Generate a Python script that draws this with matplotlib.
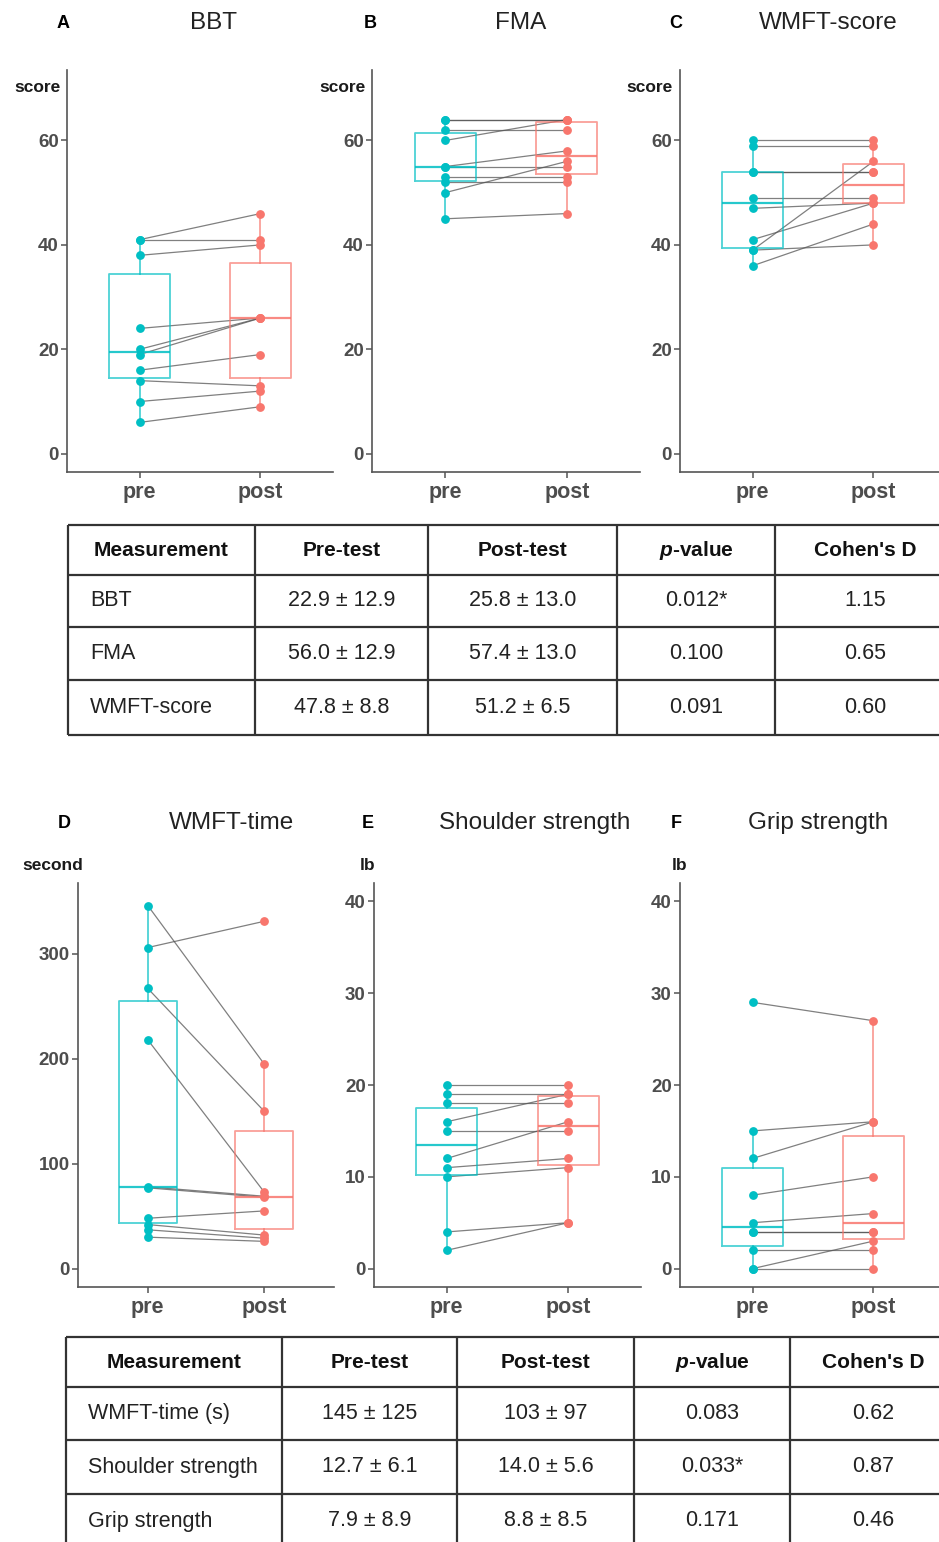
import matplotlib
matplotlib.use("Agg")
import matplotlib.pyplot as plt

plt.rcParams['font.family'] = ['Liberation Sans', 'DejaVu Sans']
plt.rcParams['mathtext.fontset'] = 'custom'
plt.rcParams['mathtext.it'] = 'Liberation Sans:italic:bold'
plt.rcParams['mathtext.rm'] = 'Liberation Sans:bold'

# ---- data (10 participants, paired pre/post) ----
groups = ["pre", "post"]

bbt_pre = [41, 41, 38, 24, 20, 19, 16, 14, 10, 6]
bbt_post = [46, 41, 40, 26, 26, 26, 19, 13, 12, 9]
fma_pre = [64, 64, 62, 60, 55, 55, 53, 52, 50, 45]
fma_post = [64, 64, 62, 64, 58, 55, 53, 52, 56, 46]
wmft_score_pre = [60, 59, 54, 54, 49, 47, 41, 39, 39, 36]
wmft_score_post = [60, 59, 54, 54, 49, 48, 48, 56, 40, 44]
wmft_time_pre = [346, 306, 267, 218, 78, 77, 48, 42, 37, 30]
wmft_time_post = [195, 331, 150, 73, 69, 68, 55, 32, 29, 26]
shoulder_pre = [20, 19, 18, 16, 15, 12, 11, 10, 4, 2]
shoulder_post = [20, 19, 18, 19, 15, 16, 12, 11, 5, 5]
grip_pre = [29, 15, 12, 8, 5, 4, 4, 2, 0, 0]
grip_post = [27, 16, 16, 10, 6, 4, 4, 2, 3, 0]

panel_letters = ["A", "B", "C", "D", "E", "F"]
panel_titles = ["BBT", "FMA", "WMFT-score", "WMFT-time", "Shoulder strength", "Grip strength"]
panel_units = ["score", "score", "score", "second", "lb", "lb"]
panel_ticks = [[0, 20, 40, 60], [0, 20, 40, 60], [0, 20, 40, 60],
               [0, 100, 200, 300], [0, 10, 20, 30, 40], [0, 10, 20, 30, 40]]
panel_ranges = [(0, 70), (0, 70), (0, 70), (0, 350), (0, 40), (0, 40)]

table_header = ["Measurement", "Pre-test", "Post-test", r"$\mathit{p}$-value", "Cohen's D"]
table1_rows = [
    ["BBT", "22.9 \u00b1 12.9", "25.8 \u00b1 13.0", "0.012*", "1.15"],
    ["FMA", "56.0 \u00b1 12.9", "57.4 \u00b1 13.0", "0.100", "0.65"],
    ["WMFT-score", "47.8 \u00b1 8.8", "51.2 \u00b1 6.5", "0.091", "0.60"],
]
table2_rows = [
    ["WMFT-time (s)", "145 \u00b1 125", "103 \u00b1 97", "0.083", "0.62"],
    ["Shoulder strength", "12.7 \u00b1 6.1", "14.0 \u00b1 5.6", "0.033*", "0.87"],
    ["Grip strength", "7.9 \u00b1 8.9", "8.8 \u00b1 8.5", "0.171", "0.46"],
]

pre_data = [bbt_pre, fma_pre, wmft_score_pre, wmft_time_pre, shoulder_pre, grip_pre]
post_data = [bbt_post, fma_post, wmft_score_post, wmft_time_post, shoulder_post, grip_post]

# ---- layout (pixels) ----
W, H = 939, 1542
PRE_C, POST_C = "#00BFC4", "#F8766D"
AX_C = "#555555"
TXT_C = "#4d4d4d"

fig = plt.figure(figsize=(W / 100, H / 100), dpi=100)


def px_axes(x0, y0, x1, y1):
    return fig.add_axes([x0 / W, 1 - y1 / H, (x1 - x0) / W, (y1 - y0) / H])


axes_px = [(67, 70, 333, 472), (372, 70, 640, 472), (680, 70, 946, 472),
           (78, 883, 334, 1287), (374, 883, 641, 1287), (680, 883, 946, 1287)]
letter_px = [(63, 23), (370, 23), (676, 23), (64, 823), (368, 823), (676, 823)]
title_px = [(213, 23), (521, 23), (828, 23), (232, 823), (535, 823), (818, 823)]
unit_px = [(37, 87), (342, 87), (649, 87), (53, 866), (368, 866), (680, 866)]

for i in range(6):
    ax = px_axes(*axes_px[i])
    pre, post = pre_data[i], post_data[i]

    # paired lines
    for a, b in zip(pre, post):
        ax.plot([1, 2], [a, b], color="#555555", lw=0.9, alpha=0.75, zorder=2)

    for pos, vals, col in [(1, pre, PRE_C), (2, post, POST_C)]:
        ax.boxplot([vals], positions=[pos], widths=0.5, whis=1.5, showfliers=False,
                   showcaps=False,
                   boxprops=dict(color=col, lw=1.3, alpha=0.7),
                   whiskerprops=dict(color=col, lw=1.3, alpha=0.7),
                   medianprops=dict(color=col, lw=1.6, alpha=0.85))
        ax.plot([pos] * len(vals), vals, "o", color=col, ms=5.3, mec=col, zorder=4)

    lo, hi = panel_ranges[i]
    pad = (hi - lo) * 0.05
    ax.set_ylim(lo - pad, hi + pad)
    ax.set_xlim(0.4, 2.6)
    ax.set_yticks(panel_ticks[i])
    ax.set_xticks([1, 2])
    ax.set_xticklabels(groups)
    for s in ["top", "right"]:
        ax.spines[s].set_visible(False)
    for s in ["left", "bottom"]:
        ax.spines[s].set_color(AX_C)
        ax.spines[s].set_linewidth(1.2)
    ax.tick_params(axis="y", colors=AX_C, length=4, width=1.1, labelsize=13.5,
                   labelcolor=TXT_C, pad=2)
    ax.tick_params(axis="x", colors=AX_C, length=4, width=1.1, labelsize=15.5,
                   labelcolor=TXT_C, pad=3)
    for lab in ax.get_yticklabels() + ax.get_xticklabels():
        lab.set_fontweight("bold")

    fig.text(letter_px[i][0] / W, 1 - letter_px[i][1] / H, panel_letters[i],
             ha="center", va="center", fontsize=13, fontweight="bold", color="black")
    fig.text(title_px[i][0] / W, 1 - title_px[i][1] / H, panel_titles[i],
             ha="center", va="center", fontsize=17.5, color="#222222")
    fig.text(unit_px[i][0] / W, 1 - unit_px[i][1] / H, panel_units[i],
             ha="center", va="center", fontsize=12.5, fontweight="bold", color="#1a1a1a")

# ---- tables drawn on an overlay in pixel coordinates ----
ov = fig.add_axes([0, 0, 1, 1])
ov.set_xlim(0, W)
ov.set_ylim(H, 0)
ov.axis("off")


def draw_table(cols, rows_y, header, rows, label_x):
    lc = "#333333"
    for x in cols:
        ov.plot([x, x], [rows_y[0], rows_y[-1]], color=lc, lw=1.6, solid_capstyle="butt")
    for y in rows_y:
        ov.plot([cols[0], cols[-1]], [y, y], color=lc, lw=1.6, solid_capstyle="butt")
    yc = [(rows_y[k] + rows_y[k + 1]) / 2 for k in range(len(rows_y) - 1)]
    xc = [(cols[k] + cols[k + 1]) / 2 for k in range(len(cols) - 1)]
    for j, h in enumerate(header):
        ov.text(xc[j], yc[0], h, ha="center", va="center", fontsize=15,
                fontweight="bold", color="#111111")
    for r, row in enumerate(rows):
        for j, cell in enumerate(row):
            if j == 0:
                ov.text(label_x, yc[r + 1], cell, ha="left", va="center",
                        fontsize=15.5, color="#222222")
            else:
                ov.text(xc[j], yc[r + 1], cell, ha="center", va="center",
                        fontsize=15.5, color="#222222")


draw_table([68, 255, 428, 617, 775, 956], [525, 575, 627, 680, 735],
           table_header, table1_rows, 90)
draw_table([66, 282, 457, 634, 790, 956], [1337, 1387, 1440, 1494, 1548],
           table_header, table2_rows, 88)

fig.savefig("out.png", dpi=100)
